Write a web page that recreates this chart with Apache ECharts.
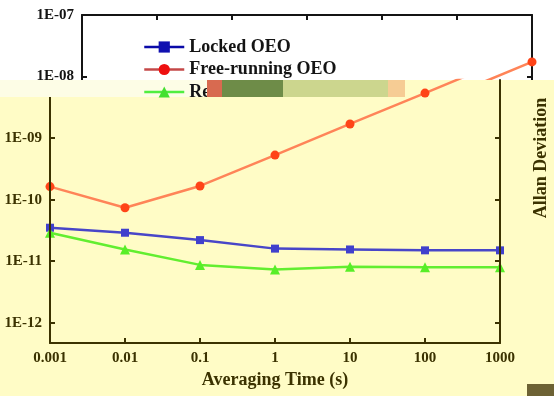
<!DOCTYPE html>
<html><head><meta charset="utf-8">
<script src="https://cdn.jsdelivr.net/npm/echarts@6/dist/echarts.min.js"></script>
<style>html,body{margin:0;padding:0;background:#fff}#c{width:554px;height:396px}</style>
</head><body><div id="c"></div>
<script>
// ---- data ----
const taus = [0.001, 0.01, 0.1, 1, 10, 100, 1000];
const lockedOEO = [3.5e-11, 2.9e-11, 2.2e-11, 1.6e-11, 1.55e-11, 1.5e-11, 1.5e-11];
const freeRunningOEO = [1.63e-10, 7.4e-11, 1.67e-10, 5.3e-10, 1.7e-9, 5.4e-9, 1.73e-8];
const reference = [2.9e-11, 1.55e-11, 8.7e-12, 7.3e-12, 8.1e-12, 8.0e-12, 8.0e-12];
const seriesNames = ['Locked OEO', 'Free-running OEO', 'Reference'];
const xTickLabels = {'-3':'0.001','-2':'0.01','-1':'0.1','0':'1','1':'10','2':'100','3':'1000'};
const yTickLabels = {'-12':'1E-12','-11':'1E-11','-10':'1E-10','-9':'1E-09','-8':'1E-08','-7':'1E-07'};
const yDecades = [1e-12, 1e-11, 1e-10, 1e-9, 1e-8, 1e-7];
const xTitle = 'Averaging Time (s)';
const yTitle = 'Allan Deviation';

// ---- layout / style ----
const yMin = Math.pow(10, -12.33);
const yMaxLower = Math.pow(10, -8.055);
const yMaxUpper = 1e-7;
const FONT = '"Liberation Serif", "Times New Roman", serif';
const olive = '#3b3200';
const dark = '#141414';

const expOf = v => String(Math.round(Math.log10(v)));
const xFmt = v => xTickLabels[expOf(v)] || '';
const yFmt = v => yTickLabels[expOf(v)] || '';

const pairs = arr => taus.map((t, i) => [t, arr[i]]);

function xAxisDef(grid, pos, color, showLabel) {
  return {
    type: 'log', logBase: 10, gridIndex: grid, position: pos, min: 0.001, max: 1000,
    axisLine: { onZero: false, lineStyle: { color: color, width: 2 } },
    axisTick: { inside: true, length: 5, lineStyle: { color: color, width: 2 } },
    axisLabel: { show: showLabel, margin: 8, fontFamily: FONT, fontWeight: 'bold', fontSize: 15, color: color, formatter: xFmt },
    splitLine: { show: false }, minorTick: { show: false },
    name: showLabel ? xTitle : '', nameLocation: 'middle', nameGap: 28,
    nameTextStyle: { fontFamily: FONT, fontWeight: 'bold', fontSize: 18, color: olive },
    z: grid === 0 ? 6 : 1
  };
}
function yAxisDef(grid, pos, max, color, showLabel) {
  return {
    type: 'log', logBase: 10, gridIndex: grid, position: pos, min: yMin, max: max,
    axisLine: { onZero: false, lineStyle: { color: color, width: 2 } },
    axisTick: { inside: true, length: 5, lineStyle: { color: color, width: 2 }, customValues: yDecades },
    axisLabel: { show: showLabel, margin: 8, fontFamily: FONT, fontWeight: 'bold', fontSize: 15, color: color, formatter: yFmt, customValues: yDecades },
    splitLine: { show: false }, minorTick: { show: false },
    z: grid === 0 ? 6 : 1
  };
}

const styles = [
  { symbol: 'rect', size: 8, line: '#4846c8', item: '#4040cc', legLine: '#0a0aa8', legItem: '#1010b0' },
  { symbol: 'circle', size: 9, line: '#ff8458', item: '#ff4418', legLine: '#c44848', legItem: '#ee1010' },
  { symbol: 'triangle', size: 10, line: '#62ee30', item: '#58ee28', legLine: '#50ee40', legItem: '#44e030' }
];
const datasets = [lockedOEO, freeRunningOEO, reference];

const series = [];
[0, 1].forEach(g => {
  datasets.forEach((d, i) => {
    const s = styles[i];
    series.push({
      type: 'line', name: seriesNames[i], xAxisIndex: g, yAxisIndex: g === 0 ? 0 : 2,
      data: pairs(d), symbol: s.symbol, symbolSize: s.size, clip: true,
      lineStyle: { width: 2.5, color: s.line }, itemStyle: { color: s.item },
      z: g === 0 ? 5 : 1, animation: false
    });
  });
});

const chart = echarts.init(document.getElementById('c'), null, { renderer: 'canvas' });
chart.setOption({
  backgroundColor: '#ffffff',
  animation: false,
  grid: [
    { left: 50, right: 54, top: 80, bottom: 53 },
    { left: 82, right: 22, top: 15, bottom: 53 }
  ],
  xAxis: [xAxisDef(0, 'bottom', olive, true), xAxisDef(1, 'top', dark, false)],
  yAxis: [
    yAxisDef(0, 'left', yMaxLower, olive, true),
    yAxisDef(0, 'right', yMaxLower, olive, false),
    yAxisDef(1, 'left', yMaxUpper, dark, true),
    yAxisDef(1, 'right', yMaxUpper, dark, false)
  ],
  legend: {
    left: 143, top: 38, orient: 'vertical', padding: 0, itemWidth: 40, itemHeight: 14, itemGap: 4.5,
    selectedMode: false, z: 20,
    textStyle: { fontFamily: FONT, fontWeight: 'bold', fontSize: 18, color: dark },
    data: seriesNames.map((n, i) => ({ name: n, itemStyle: { color: styles[i].legItem }, lineStyle: { color: styles[i].legLine, width: 2.5 } }))
  },
  graphic: { elements: [
    { type: 'rect', shape: { x: 0, y: 80, width: 554, height: 316 }, style: { fill: '#fffcc6' }, z: 3, silent: true },
    { type: 'rect', shape: { x: 0, y: 80, width: 207, height: 17 }, style: { fill: '#fdfde6' }, z: 10, silent: true },
    { type: 'rect', shape: { x: 207, y: 80, width: 15, height: 17 }, style: { fill: '#d86a50' }, z: 30, silent: true },
    { type: 'rect', shape: { x: 222, y: 80, width: 61, height: 17 }, style: { fill: '#6e8c48' }, z: 30, silent: true },
    { type: 'rect', shape: { x: 283, y: 80, width: 105, height: 17 }, style: { fill: '#ccd68e' }, z: 30, silent: true },
    { type: 'rect', shape: { x: 388, y: 80, width: 17, height: 17 }, style: { fill: '#f6cc94' }, z: 30, silent: true },
    { type: 'rect', shape: { x: 527, y: 384, width: 27, height: 12 }, style: { fill: '#6d6234' }, z: 30, silent: true },
    { type: 'text', x: 541, y: 158, rotation: Math.PI / 2, z: 30, silent: true,
      style: { text: yTitle, font: 'bold 18px ' + FONT, fill: olive, align: 'center', verticalAlign: 'middle' } }
  ] },
  series: series
});
</script></body></html>
